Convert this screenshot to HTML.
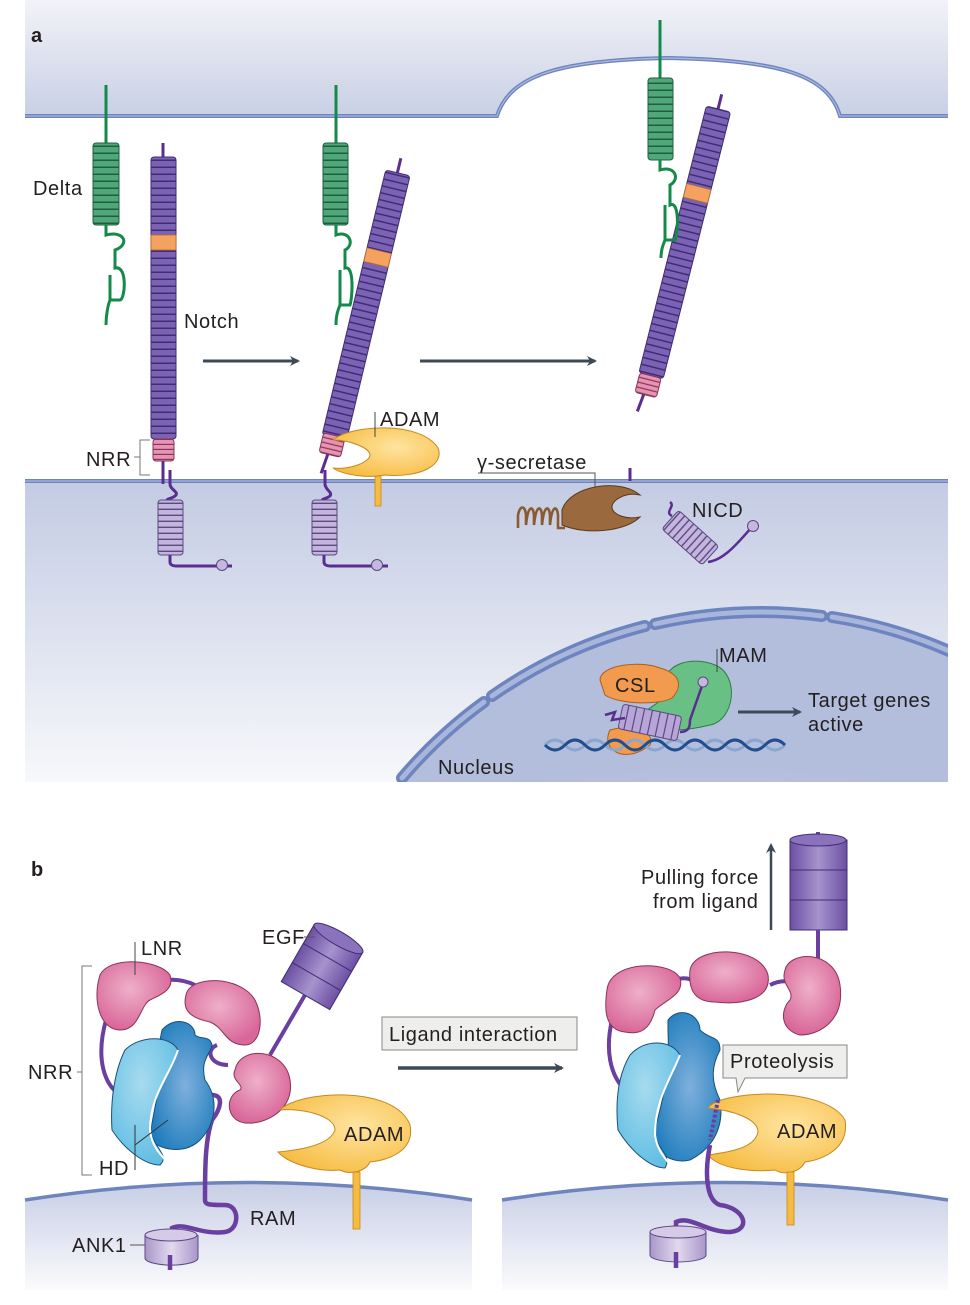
<!DOCTYPE html>
<html><head><meta charset="utf-8"><style>
html,body{margin:0;padding:0;background:#fff;width:970px;height:1305px;overflow:hidden}
svg{display:block}
text{font-family:"Liberation Sans",sans-serif;fill:#231f20;letter-spacing:0.6px}
</style></head><body>
<svg width="970" height="1305" viewBox="0 0 970 1305" xmlns="http://www.w3.org/2000/svg">
<defs>
<linearGradient id="topg" x1="0" y1="0" x2="0" y2="1"><stop offset="0" stop-color="#f2f3f8"/><stop offset="1" stop-color="#c9d0e5"/></linearGradient>
<linearGradient id="cellg" x1="0" y1="0" x2="0" y2="1"><stop offset="0" stop-color="#c3cbe3"/><stop offset="1" stop-color="#f7f8fb"/></linearGradient>
<radialGradient id="nucg" cx="0.45" cy="0.75" r="0.6"><stop offset="0" stop-color="#eef0f7"/><stop offset="1" stop-color="#b3bddc"/></radialGradient>
<linearGradient id="memb" x1="0" y1="0" x2="0" y2="1"><stop offset="0" stop-color="#c7cee5"/><stop offset="1" stop-color="#fbfbfd"/></linearGradient>
<pattern id="pst" width="30" height="7" patternUnits="userSpaceOnUse"><rect width="30" height="7" fill="#7c62b4"/><rect y="5.5" width="30" height="1.5" fill="#3f2d74"/></pattern>
<pattern id="gst" width="30" height="7" patternUnits="userSpaceOnUse"><rect width="30" height="7" fill="#4fa77a"/><rect y="5.5" width="30" height="1.5" fill="#1f5f3f"/></pattern>
<pattern id="kst" width="30" height="5" patternUnits="userSpaceOnUse"><rect width="30" height="5" fill="#e694b4"/><rect y="3.8" width="30" height="1.2" fill="#8a3457"/></pattern>
<pattern id="lst" width="30" height="6" patternUnits="userSpaceOnUse"><rect width="30" height="6" fill="#c3b5dd"/><rect y="4.6" width="30" height="1.4" fill="#5a4a80"/></pattern>
<radialGradient id="pink" cx="0.45" cy="0.4" r="0.6"><stop offset="0" stop-color="#eeb0c8"/><stop offset="1" stop-color="#d9679a"/></radialGradient>
<radialGradient id="dblue" cx="0.55" cy="0.5" r="0.6"><stop offset="0" stop-color="#7fb0dc"/><stop offset="1" stop-color="#1f7dbd"/></radialGradient>
<radialGradient id="lblue" cx="0.45" cy="0.35" r="0.7"><stop offset="0" stop-color="#a7dbef"/><stop offset="1" stop-color="#5ebde3"/></radialGradient>
<radialGradient id="yel" cx="0.6" cy="0.4" r="0.7"><stop offset="0" stop-color="#ffe4a0"/><stop offset="1" stop-color="#f6bb40"/></radialGradient>
<linearGradient id="cyl" x1="0" y1="0" x2="1" y2="0"><stop offset="0" stop-color="#6c50a3"/><stop offset="0.5" stop-color="#a793cd"/><stop offset="1" stop-color="#6c50a3"/></linearGradient>
<linearGradient id="cyl2" x1="0" y1="0" x2="1" y2="0"><stop offset="0" stop-color="#a896c9"/><stop offset="0.5" stop-color="#e2d9ef"/><stop offset="1" stop-color="#a896c9"/></linearGradient>
<marker id="ah" markerWidth="10" markerHeight="10" refX="8" refY="5" orient="auto" markerUnits="userSpaceOnUse"><path d="M0,0 L10,5 L0,10 L3,5Z" fill="#3b4a56"/></marker>
</defs>

<!-- PANEL A backgrounds -->
<path d="M25,0 H948 V115 H840 C828,75 780,60 668,58 C560,60 510,75 497,115 H25Z" fill="url(#topg)"/>
<path d="M25,116 H497 C510,75 560,60 668,58 C780,60 828,75 840,116 H948" fill="none" stroke="#6d84bf" stroke-width="4"/>
<path d="M25,116 H497 C510,75 560,60 668,58 C780,60 828,75 840,116 H948" fill="none" stroke="#aab8dd" stroke-width="1.2"/>
<rect x="25" y="480" width="923" height="302" fill="url(#cellg)"/>
<line x1="25" y1="481" x2="948" y2="481" stroke="#6d84bf" stroke-width="4"/>
<line x1="25" y1="481" x2="948" y2="481" stroke="#aab8dd" stroke-width="1.2"/>
<!-- nucleus -->
<clipPath id="nc"><rect x="25" y="480" width="923" height="302"/></clipPath>
<g clip-path="url(#nc)">
<circle cx="761" cy="1083" r="471" fill="url(#nucg)"/>
<g fill="none" stroke-linecap="round">
<g stroke="#6d84bf" stroke-width="12">
<path d="M402,778 A471,471 0 0 1 484,702"/>
<path d="M492,696 A471,471 0 0 1 645,626"/>
<path d="M655,624 A471,471 0 0 1 822,616"/>
<path d="M832,617 A471,471 0 0 1 960,656"/>
</g>
<g stroke="#a9b6dc" stroke-width="5">
<path d="M402,778 A471,471 0 0 1 484,702"/>
<path d="M492,696 A471,471 0 0 1 645,626"/>
<path d="M655,624 A471,471 0 0 1 822,616"/>
<path d="M832,617 A471,471 0 0 1 960,656"/>
</g>
</g>
</g>
<text x="31" y="42" font-size="20" font-weight="bold">a</text>

<!-- Delta 1 -->
<line x1="106" y1="85" x2="106" y2="143" stroke="#138a4a" stroke-width="3"/>
<rect x="93" y="143" width="26" height="82" rx="3" fill="url(#gst)" stroke="#1f5f3f"/>
<path d="M106,225 V235 C125,230 130,245 115,250 V268 C128,265 125,300 120,300 H110 V275 L110,300 C108,305 106,315 106,325" fill="none" stroke="#138a4a" stroke-width="3"/>
<text x="33" y="195" font-size="20">Delta</text>
<!-- Notch 1 -->
<line x1="163" y1="143" x2="163" y2="157" stroke="#5b2d91" stroke-width="3"/>
<rect x="151" y="157" width="25" height="282" rx="3" fill="url(#pst)" stroke="#3f2d74"/>
<rect x="151" y="235" width="25" height="15" fill="#f3a35f" stroke="#b8672a" stroke-width="0.8"/>
<rect x="153" y="439" width="21" height="22" rx="3" fill="url(#kst)" stroke="#8a3457"/>
<path d="M163,461 V484 M170,470 V484 C170,490 180,492 175,496 C170,500 165,498 168,502" fill="none" stroke="#5b2d91" stroke-width="3"/>
<rect x="158" y="500" width="25" height="55" rx="3" fill="url(#lst)" stroke="#5a4a80"/>
<path d="M170,555 V562 C170,565 173,566 176,566 H232" fill="none" stroke="#5b2d91" stroke-width="3"/>
<circle cx="222" cy="565" r="5.5" fill="#c6b7e0" stroke="#5a4a80"/>
<text x="184" y="328" font-size="20">Notch</text>
<text x="86" y="466" font-size="20">NRR</text>
<path d="M150,440 H140 V475 H150 M140,457 H134" fill="none" stroke="#777" stroke-width="1"/>
<line x1="203" y1="361" x2="298" y2="361" stroke="#3b4a56" stroke-width="3" marker-end="url(#ah)"/>

<!-- Delta 2 + Notch 2 -->
<line x1="336" y1="85" x2="336" y2="143" stroke="#138a4a" stroke-width="3"/>
<rect x="323" y="143" width="25" height="82" rx="3" fill="url(#gst)" stroke="#1f5f3f"/>
<g transform="translate(318,452) rotate(13.5)">
<line x1="12" y1="-305" x2="12" y2="-290" stroke="#5b2d91" stroke-width="3"/>
<rect x="0" y="-290" width="25" height="272" rx="3" fill="url(#pst)" stroke="#3f2d74"/>
<rect x="0" y="-210" width="25" height="14" fill="#f3a35f" stroke="#b8672a" stroke-width="0.8"/>
<rect x="1" y="-20" width="22" height="20" rx="3" fill="url(#kst)" stroke="#8a3457"/>
<line x1="10" y1="0" x2="8" y2="20" stroke="#5b2d91" stroke-width="3"/>
</g>
<path d="M336,225 V235 C350,230 355,245 345,250 V268 C355,265 352,300 350,305 H340 V270 L340,305 C338,310 336,315 336,325" fill="none" stroke="#138a4a" stroke-width="3"/>
<path d="M325,470 V484 C325,490 333,492 330,496 C325,500 320,498 324,502" fill="none" stroke="#5b2d91" stroke-width="3"/>
<rect x="312" y="500" width="25" height="55" rx="3" fill="url(#lst)" stroke="#5a4a80"/>
<path d="M324,555 V562 C324,565 327,566 330,566 H388" fill="none" stroke="#5b2d91" stroke-width="3"/>
<circle cx="377" cy="565" r="5.5" fill="#c6b7e0" stroke="#5a4a80"/>
<!-- ADAM a -->
<rect x="375" y="470" width="6" height="36" fill="#f6bb40" stroke="#c48a20" stroke-width="0.8"/>
<path d="M333,440 C350,425 420,420 438,448 C445,465 420,478 385,475 C370,478 345,476 333,468 C350,470 370,462 370,455 C370,448 350,440 333,440Z" fill="url(#yel)" stroke="#c48a20"/>
<text x="380" y="426" font-size="20">ADAM</text>
<line x1="375" y1="412" x2="375" y2="437" stroke="#444" stroke-width="1"/>
<line x1="420" y1="361" x2="595" y2="361" stroke="#3b4a56" stroke-width="3" marker-end="url(#ah)"/>

<!-- Delta 3 + Notch 3 -->
<line x1="660" y1="20" x2="660" y2="78" stroke="#138a4a" stroke-width="3"/>
<rect x="648" y="78" width="25" height="82" rx="3" fill="url(#gst)" stroke="#1f5f3f"/>
<g transform="translate(634,392) rotate(14.2)">
<line x1="12" y1="-310" x2="12" y2="-295" stroke="#5b2d91" stroke-width="3"/>
<rect x="0" y="-295" width="25" height="275" rx="3" fill="url(#pst)" stroke="#3f2d74"/>
<rect x="0" y="-215" width="25" height="14" fill="#f3a35f" stroke="#b8672a" stroke-width="0.8"/>
<rect x="1" y="-20" width="22" height="20" rx="3" fill="url(#kst)" stroke="#8a3457"/>
<line x1="10" y1="0" x2="8" y2="18" stroke="#5b2d91" stroke-width="3"/>
</g>
<path d="M660,160 V170 C676,165 680,180 670,185 V205 C680,200 678,235 675,240 H665 V205 L665,240 C663,245 661,250 661,258" fill="none" stroke="#138a4a" stroke-width="3"/>

<!-- gamma secretase -->
<path d="M518,528 V515 C520,505 525,505 526,515 V525 C528,505 533,505 534,515 V525 C536,505 541,505 542,515 V525 C544,505 549,505 550,515 V525 C552,505 557,505 558,515 V528 H565" fill="none" stroke="#8a5a30" stroke-width="2.6"/>
<path d="M562,510 C570,485 620,478 640,495 C625,492 612,500 612,507 C612,514 625,520 640,517 C625,532 585,535 562,525Z" fill="#9a6a3e" stroke="#5c3a1c"/>
<text x="477" y="469" font-size="20">γ-secretase</text>
<path d="M478,473 H595 V488" fill="none" stroke="#555" stroke-width="1"/>
<line x1="630" y1="468" x2="630" y2="481" stroke="#5b2d91" stroke-width="3"/>
<!-- NICD -->
<g transform="translate(690,538) rotate(-48)">
<rect x="-12" y="-27" width="25" height="54" rx="3" fill="url(#lst)" stroke="#5a4a80"/>
</g>
<path d="M672,516 C664,512 676,506 670,502 M708,562 C725,560 740,540 752,527" fill="none" stroke="#5b2d91" stroke-width="2.5"/>
<circle cx="753" cy="526" r="5.5" fill="#c6b7e0" stroke="#5a4a80"/>
<text x="692" y="517" font-size="20">NICD</text>

<!-- nucleus complex -->
<path d="M610,730 C600,750 625,765 650,745 C655,735 640,722 610,730Z" fill="#f29a4e" stroke="#a8601f"/>
<path d="M665,690 C660,665 690,655 715,665 C740,675 735,720 710,725 C690,730 660,735 640,720 C645,705 665,705 665,690Z" fill="#69c084" stroke="#2f7a48"/>
<path d="M600,680 C600,665 640,660 660,668 C685,675 680,690 672,698 C660,705 620,705 605,695Z" fill="#f29a4e" stroke="#a8601f"/>
<text x="615" y="692" font-size="20">CSL</text>
<path d="M545,745 q10,-10 20,0 t20,0 t20,0 t20,0 t20,0 t20,0 t20,0 t20,0 t20,0 t20,0 t20,0 t20,0" fill="none" stroke="#8aa6cf" stroke-width="3"/>
<path d="M545,745 q10,10 20,0 t20,0 t20,0 t20,0 t20,0 t20,0 t20,0 t20,0 t20,0 t20,0 t20,0 t20,0" fill="none" stroke="#1f4f8f" stroke-width="3"/>
<g transform="translate(650,722) rotate(12)"><rect x="-30" y="-12" width="60" height="25" rx="3" fill="#b7a5d8" stroke="#5a4a80"/>
<path d="M-24,-12 V13 M-16,-12 V13 M-8,-12 V13 M0,-12 V13 M8,-12 V13 M16,-12 V13 M24,-12 V13" stroke="#5a4a80" stroke-width="1.2"/></g>
<path d="M605,715 L615,712 L612,720 L625,718 M680,732 C690,732 690,725 690,720 L703,683" fill="none" stroke="#5b2d91" stroke-width="2.5"/>
<circle cx="703" cy="682" r="5" fill="#c6b7e0" stroke="#5a4a80"/>
<text x="719" y="662" font-size="20">MAM</text>
<line x1="717" y1="649" x2="717" y2="672" stroke="#444" stroke-width="1"/>
<line x1="738" y1="712" x2="800" y2="712" stroke="#3b4a56" stroke-width="3" marker-end="url(#ah)"/>
<text x="808" y="707" font-size="20">Target genes</text>
<text x="808" y="731" font-size="20">active</text>
<text x="438" y="774" font-size="20">Nucleus</text>

<!-- PANEL B -->
<text x="31" y="876" font-size="20" font-weight="bold">b</text>
<path d="M25,1200 Q248,1165 472,1200 V1290 H25Z" fill="url(#memb)"/>
<path d="M25,1200 Q248,1165 472,1200" fill="none" stroke="#6d84bf" stroke-width="3.5"/>
<path d="M502,1200 Q725,1165 948,1200 V1290 H502Z" fill="url(#memb)"/>
<path d="M502,1200 Q725,1165 948,1200" fill="none" stroke="#6d84bf" stroke-width="3.5"/>

<!-- left b -->
<path d="M106,1020 C95,1060 105,1085 120,1095 M150,985 C165,978 180,978 195,985 M217,1045 C205,1050 210,1065 228,1065 M270,1055 L305,995" fill="none" stroke="#6a3fa0" stroke-width="4"/>
<path d="M212,1095 C225,1095 220,1110 212,1120 C205,1140 205,1170 205,1200 C205,1205 210,1205 225,1205 C240,1205 240,1230 225,1232 C200,1235 185,1222 172,1228 V1235" fill="none" stroke="#6a3fa0" stroke-width="4.5"/>
<path d="M100,975 C110,955 160,960 170,975 C175,990 160,995 150,1000 C140,1005 140,1030 120,1030 C100,1030 92,1000 100,975Z" fill="url(#pink)" stroke="#8a3457"/>
<path d="M186,995 C190,975 240,975 255,1000 C265,1020 260,1045 245,1045 C225,1045 225,1028 210,1022 C190,1018 182,1010 186,995Z" fill="url(#pink)" stroke="#8a3457"/>
<path d="M235,1070 C240,1045 285,1048 290,1080 C295,1110 265,1125 245,1123 C225,1120 225,1095 240,1090 C245,1085 230,1080 235,1070Z" fill="url(#pink)" stroke="#8a3457"/>
<path d="M162,1030 C175,1015 195,1022 195,1035 C200,1040 210,1035 212,1045 C210,1055 200,1060 205,1080 C220,1100 215,1125 200,1140 C185,1155 160,1150 150,1140 C150,1120 165,1080 160,1040Z" fill="url(#dblue)" stroke="#1a4f7a"/>
<path d="M125,1050 C140,1035 170,1035 178,1050 C170,1075 150,1095 150,1130 C155,1150 170,1155 160,1165 C145,1165 125,1150 112,1130 C110,1100 115,1070 125,1050Z" fill="url(#lblue)" stroke="#1a4f7a"/>
<path d="M178,1050 C170,1075 150,1095 150,1130 C152,1148 162,1155 165,1160" fill="none" stroke="#fff" stroke-width="2"/>
<g transform="translate(322,967) rotate(30)">
<rect x="-28" y="-33" width="56" height="66" fill="url(#cyl)" stroke="#3f2d74"/>
<path d="M-28,-11 H28 M-28,11 H28" stroke="#3f2d74"/>
<ellipse cx="0" cy="-33" rx="28" ry="7" fill="#8a72bd" stroke="#3f2d74"/>
</g>
<path d="M280,1110 C300,1090 395,1085 410,1125 C415,1150 390,1160 370,1162 C365,1172 350,1175 340,1170 C320,1172 290,1165 278,1152 C300,1150 330,1145 335,1130 C335,1115 300,1108 280,1110Z" fill="url(#yel)" stroke="#c48a20"/>
<rect x="353" y="1172" width="7" height="57" fill="#f6bb40" stroke="#c48a20" stroke-width="0.8"/>
<text x="344" y="1141" font-size="20">ADAM</text>
<path d="M145,1235 V1258 A26,7 0 0 0 198,1258 V1235" fill="url(#cyl2)" stroke="#5a4a80"/>
<ellipse cx="171" cy="1235" rx="26" ry="6" fill="#d5cae8" stroke="#5a4a80"/>
<line x1="170" y1="1255" x2="170" y2="1270" stroke="#6a3fa0" stroke-width="4.5"/>
<text x="72" y="1252" font-size="20">ANK1</text>
<line x1="130" y1="1245" x2="145" y2="1245" stroke="#555"/>
<text x="250" y="1225" font-size="20">RAM</text>
<text x="262" y="944" font-size="20">EGF</text>
<line x1="304" y1="937" x2="315" y2="937" stroke="#555"/>
<text x="141" y="955" font-size="20">LNR</text>
<line x1="135" y1="942" x2="135" y2="975" stroke="#444"/>
<text x="28" y="1079" font-size="20">NRR</text>
<path d="M92,966 H82 V1175 H92 M82,1072 H77" fill="none" stroke="#777"/>
<text x="99" y="1175" font-size="20">HD</text>
<path d="M135,1125 V1170 M135,1145 L168,1120" fill="none" stroke="#333"/>

<rect x="382" y="1017" width="195" height="33" fill="#eeeeec" stroke="#888"/>
<text x="389" y="1041" font-size="20" letter-spacing="0.3">Ligand interaction</text>
<line x1="398" y1="1068" x2="562" y2="1068" stroke="#3b4a56" stroke-width="3.5" marker-end="url(#ah)"/>

<!-- right b -->
<line x1="771" y1="930" x2="771" y2="845" stroke="#3b4a56" stroke-width="2.5" marker-end="url(#ah)"/>
<text x="641" y="884" font-size="20">Pulling force</text>
<text x="653" y="908" font-size="20">from ligand</text>
<line x1="818" y1="832" x2="818" y2="840" stroke="#6a3fa0" stroke-width="4"/>
<rect x="790" y="840" width="57" height="90" fill="url(#cyl)" stroke="#3f2d74"/>
<path d="M790,870 H847 M790,900 H847" stroke="#3f2d74"/>
<ellipse cx="818" cy="840" rx="28" ry="6" fill="#8a72bd" stroke="#3f2d74"/>
<path d="M818,930 V960 M612,1020 C605,1050 610,1075 625,1090 M665,985 C680,975 690,978 695,982 M770,985 C780,980 790,980 795,985" fill="none" stroke="#6a3fa0" stroke-width="4"/>
<path d="M607,990 C610,960 670,960 680,978 C685,995 665,1000 655,1010 C650,1030 640,1035 625,1032 C605,1030 604,1010 607,990Z" fill="url(#pink)" stroke="#8a3457"/>
<path d="M690,970 C695,945 760,945 768,975 C772,1000 740,1005 715,1002 C695,1002 688,990 690,970Z" fill="url(#pink)" stroke="#8a3457"/>
<path d="M785,970 C790,950 835,950 840,985 C845,1020 820,1035 800,1035 C780,1030 780,1010 790,1000 C795,990 780,985 785,970Z" fill="url(#pink)" stroke="#8a3457"/>
<path d="M668,1020 C680,1005 700,1015 700,1030 C710,1040 720,1035 720,1050 C712,1065 710,1080 720,1100 C725,1130 710,1150 690,1160 C670,1165 655,1150 652,1140 C660,1110 670,1080 668,1030Z" fill="url(#dblue)" stroke="#1a4f7a"/>
<path d="M630,1055 C645,1038 672,1040 680,1055 C670,1080 655,1100 655,1135 C658,1150 672,1155 665,1168 C650,1168 630,1150 618,1130 C615,1100 618,1075 630,1055Z" fill="url(#lblue)" stroke="#1a4f7a"/>
<path d="M680,1055 C670,1080 655,1100 655,1135 C657,1150 665,1158 668,1162" fill="none" stroke="#fff" stroke-width="2"/>
<path d="M708,1108 C720,1090 825,1085 845,1120 C850,1150 820,1160 805,1162 C800,1172 785,1176 775,1170 C755,1172 720,1170 708,1155 C730,1152 755,1148 758,1132 C758,1118 730,1110 708,1108Z" fill="url(#yel)" stroke="#c48a20"/>
<rect x="787" y="1172" width="7" height="53" fill="#f6bb40" stroke="#c48a20" stroke-width="0.8"/>
<text x="777" y="1138" font-size="20">ADAM</text>
<path d="M718,1100 L710,1140" fill="none" stroke="#6a3fa0" stroke-width="4" stroke-dasharray="3 2"/>
<path d="M710,1145 C705,1170 705,1200 720,1205 C745,1208 752,1230 730,1232 C705,1232 690,1215 676,1222 V1230" fill="none" stroke="#6a3fa0" stroke-width="4.5"/>
<path d="M650,1232 V1255 A28,7 0 0 0 706,1255 V1232" fill="url(#cyl2)" stroke="#5a4a80"/>
<ellipse cx="678" cy="1232" rx="28" ry="6" fill="#d5cae8" stroke="#5a4a80"/>
<line x1="676" y1="1252" x2="676" y2="1268" stroke="#6a3fa0" stroke-width="4.5"/>
<path d="M723,1045 H847 V1078 H745 L738,1092 L736,1078 H723Z" fill="#eeeeec" stroke="#888"/>
<text x="730" y="1068" font-size="20" letter-spacing="0.3">Proteolysis</text>
</svg>
</body></html>
